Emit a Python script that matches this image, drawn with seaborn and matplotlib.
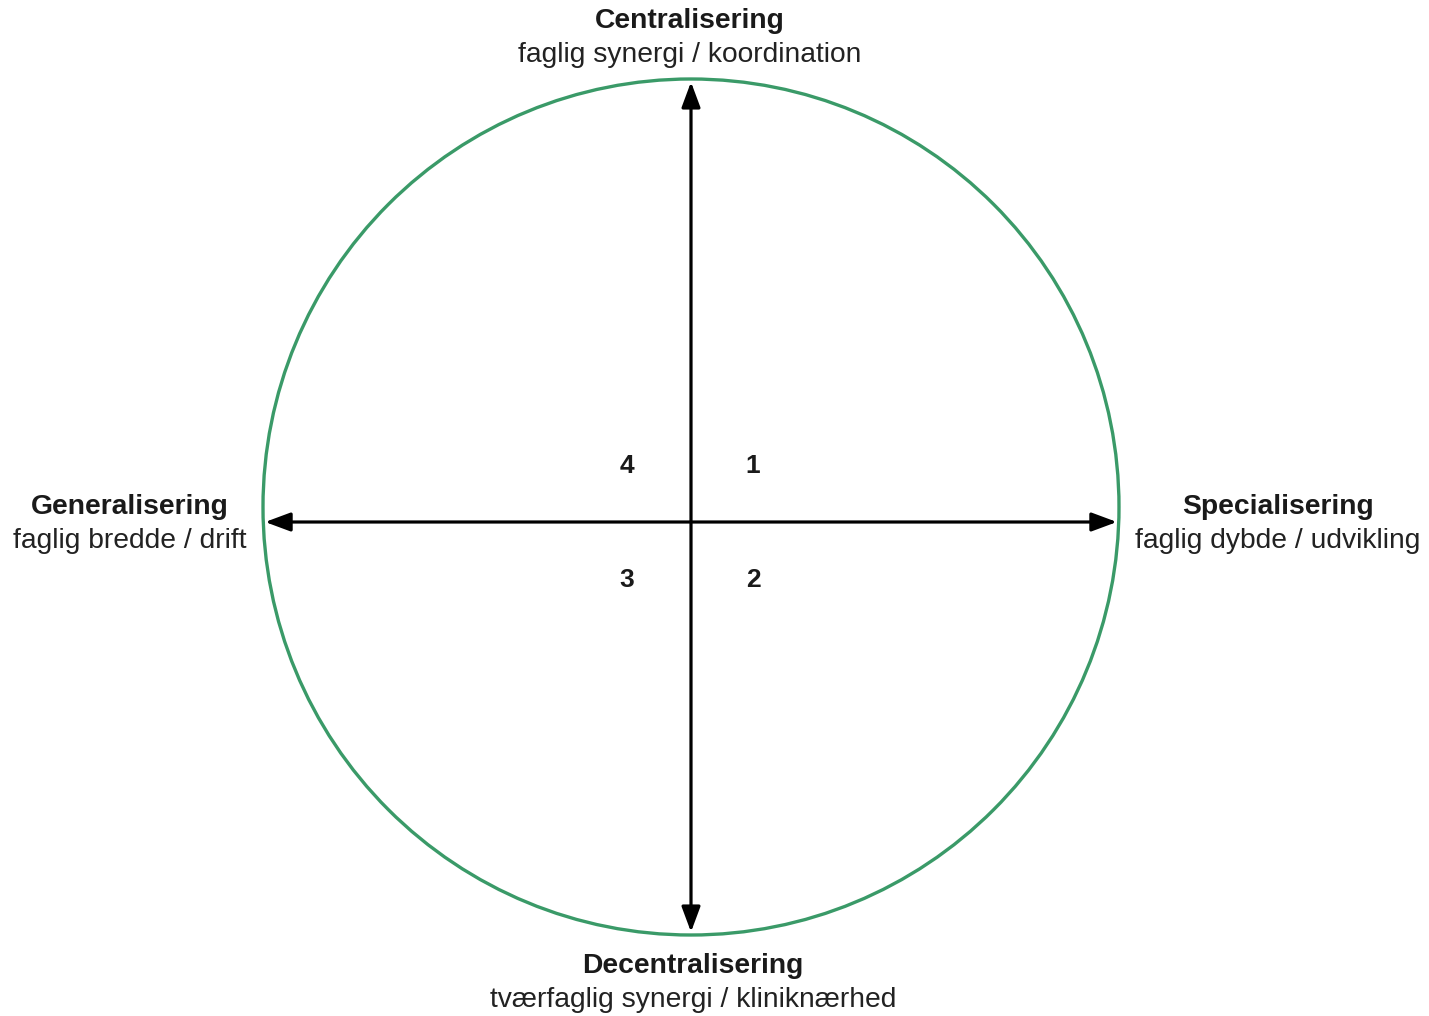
import matplotlib
matplotlib.use("Agg")
import matplotlib.pyplot as plt
import seaborn as sns

# =====================================================
# DIAGRAM CONTENT
# =====================================================

axis_titles = ["Centralisering", "Specialisering", "Decentralisering", "Generalisering"]
axis_subtitles = [
    "faglig synergi / koordination",
    "faglig dybde / udvikling",
    "tværfaglig synergi / kliniknærhed",
    "faglig bredde / drift",
]
quadrant_labels = ["1", "2", "3", "4"]

# =====================================================
# LAYOUT (unit circle, 1 unit = 428 px)
# =====================================================

GREEN = "#3a9a68"
CX, CY, R = 691, 507, 428          # centre and radius in pixels
W, H = 1429, 1016
AXIS_Y = -15 / R                   # horizontal arrow sits slightly below centre
LINE_GAP = 34 / R                  # title -> subtitle distance

# title centres in unit coords: top, right, bottom, left
title_pos = [(-1 / R, 486 / R), (587 / R, 0 / R), (2 / R, -459 / R), (-561 / R, 0 / R)]
quad_pos = [(62 / R, 41 / R), (62 / R, -73 / R), (-64 / R, -73 / R), (-64 / R, 41 / R)]

sns.set_theme(style="white")
plt.rcParams["font.family"] = ["Liberation Sans", "DejaVu Sans"]

fig = plt.figure(figsize=(W / 100, H / 100), dpi=100)
ax = fig.add_axes([0, 0, 1, 1])
ax.set_xlim(-CX / R, (W - CX) / R)
ax.set_ylim(-(H - CY) / R, CY / R)
ax.set_aspect("equal")
ax.axis("off")

# circle
ax.add_patch(plt.Circle((0, 0), 1, fill=False, color=GREEN, lw=2.4))

# arrows
arrow_kw = dict(arrowstyle="<|-|>,head_length=0.7,head_width=0.26", lw=2.3,
                color="black", mutation_scale=22, shrinkA=0, shrinkB=0)
ax.annotate("", xy=(0.995, AXIS_Y), xytext=(-0.995, AXIS_Y), arrowprops=arrow_kw)
ax.annotate("", xy=(0, 0.993), xytext=(0, -0.993), arrowprops=arrow_kw)

# axis titles
for (x, y), title, sub in zip(title_pos, axis_titles, axis_subtitles):
    ax.text(x, y, title, ha="center", va="center", fontsize=20.3,
            fontweight="bold", color="#1a1a1a")
    ax.text(x, y - LINE_GAP, sub, ha="center", va="center", fontsize=20.3,
            color="#222222")

# quadrant numbers
for (x, y), lab in zip(quad_pos, quadrant_labels):
    ax.text(x, y, lab, ha="center", va="center", fontsize=19,
            fontweight="bold", color="#1a1a1a")

sns.despine(left=True, bottom=True)
fig.savefig("out.png", dpi=100, facecolor="white")
